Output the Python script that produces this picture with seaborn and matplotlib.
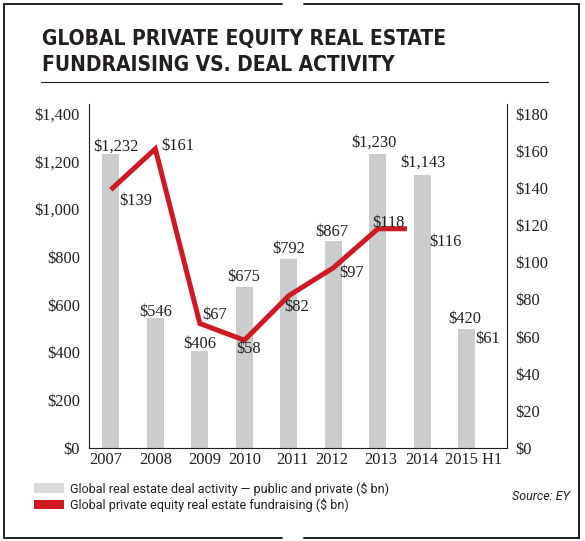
import matplotlib
matplotlib.use("Agg")
from matplotlib import pyplot as plt
from matplotlib import font_manager
from matplotlib.font_manager import FontProperties
from matplotlib.lines import Line2D
from matplotlib.patches import Patch
from matplotlib.transforms import ScaledTranslation
import seaborn as sns

# data
years = ["2007", "2008", "2009", "2010", "2011", "2012", "2013", "2014", "2015 H1"]
deal_activity = [1232, 546, 406, 675, 792, 867, 1230, 1143, 500]
deal_labels = ["$1,232", "$546", "$406", "$675", "$792", "$867", "$1,230", "$1,143", "$420"]
fundraising = [139, 161, 67, 58, 82, 97, 118, 116, 61]
# the red line as drawn: stops a bit after 2013
fund_line_x = [0, 1, 2, 3, 4, 5, 6, 6.65]
fund_line_y = [139, 161, 67, 58, 82, 97, 118, 118]
left_ticks = [0, 200, 400, 600, 800, 1000, 1200, 1400]
right_ticks = [0, 20, 40, 60, 80, 100, 120, 140, 160, 180]

W, H = 585, 541
BAR = "#cbcccd"
RED = "#cf1a24"
INK = "#231f20"
SERIF = ["Liberation Serif", "DejaVu Serif"]
SANS = ["Roboto", "DejaVu Sans"]

sns.set_style("white")
plt.rcParams["font.family"] = SERIF


def title_font(size):
    # a condensed bold face if one is installed, else Roboto bold
    for f in font_manager.fontManager.ttflist:
        fn = f.fname.lower()
        if ("condensed" in fn or "narrow" in fn) and "bold" in fn and "oblique" not in fn \
                and "italic" not in fn:
            return FontProperties(fname=f.fname, size=size)
    return FontProperties(family=SANS, weight="bold", size=size)


def fx(x):
    return x / W


def fy(y):
    return 1 - y / H


fig = plt.figure(figsize=(W / 100, H / 100), dpi=100)
ax = fig.add_axes([fx(89), fy(448), (507 - 89) / W, (448 - 104) / H])

sns.barplot(x=years, y=deal_activity, color=BAR, width=0.38, linewidth=0,
            saturation=1, ax=ax)
ax.set_xlim(-0.49, 8.9)
ax.set_ylim(0, 1440)
ax.set_yticks(left_ticks)
ax.set_yticklabels([f"${t:,}" for t in left_ticks])
ax.tick_params(axis="both", length=0, labelsize=11.8, colors=INK)
ax.tick_params(axis="y", pad=6.5)
ax.tick_params(axis="x", pad=3)
ax.set_xlabel("")
ax.set_ylabel("")
# year labels sit slightly off the bar centres in the original
year_shift = [-5.5, 0, 4.5, 0, 4, -1.5, 3, -1, 7]
for lab, dx in zip(ax.get_xticklabels(), year_shift):
    lab.set_transform(lab.get_transform() + ScaledTranslation(dx / 100, 0, fig.dpi_scale_trans))
for side in ["top", "right"]:
    ax.spines[side].set_visible(False)
for side in ["left", "bottom"]:
    ax.spines[side].set_color(INK)
    ax.spines[side].set_linewidth(0.8)

ax2 = ax.twinx()
sns.lineplot(x=fund_line_x, y=fund_line_y, color=RED, linewidth=3.6, sort=False,
             solid_joinstyle="miter", solid_capstyle="butt", ax=ax2)
ax2.set_xlim(-0.49, 8.9)
ax2.set_ylim(0, 1440 * 180 / 1400)
ax2.set_yticks(right_ticks)
ax2.set_yticklabels([f"${t}" for t in right_ticks])
ax2.tick_params(axis="y", length=0, labelsize=11.8, colors=INK, pad=6)
ax2.set_ylabel("")
for side in ["top", "left", "bottom"]:
    ax2.spines[side].set_visible(False)
ax2.spines["right"].set_color(INK)
ax2.spines["right"].set_linewidth(0.8)

# value labels, offsets in pixels from the bar top / line point
bar_offsets = [(5.5, 7), (0, 6), (0, 7), (-1, 10), (0, 9.5), (-2, 8.5),
               (-4, 11.5), (1, 12), (-2, 10)]
for i, (v, lab) in enumerate(zip(deal_activity, deal_labels)):
    dx, dy = bar_offsets[i]
    ax.annotate(lab, (i, v), xytext=(dx, dy), textcoords="offset pixels",
                ha="center", va="center", fontsize=11.8, color=INK)

fund_offsets = [(25, -11), (22.5, 3), (15, 8.5), (4.5, -9), (8, -11),
                (18.5, -5), (11, 6), (23.5, -9.6), (21, -4.5)]
for i, v in enumerate(fundraising):
    dx, dy = fund_offsets[i]
    ax2.annotate(f"${v}", (i, v), xytext=(dx, dy), textcoords="offset pixels",
                 ha="center", va="center", fontsize=11.8, color=INK)

# title and rule
tfont = title_font(15)
fig.text(fx(42), fy(45), "GLOBAL PRIVATE EQUITY REAL ESTATE", fontproperties=tfont,
         color=INK, va="baseline")
fig.text(fx(42), fy(71), "FUNDRAISING VS. DEAL ACTIVITY", fontproperties=tfont,
         color=INK, va="baseline")
fig.add_artist(Line2D([fx(41), fx(548)], [fy(82), fy(82)], color=INK, lw=0.8,
                      transform=fig.transFigure))

# legend
handles = [Patch(facecolor="#d9d9d9", edgecolor="none"),
           Patch(facecolor=RED, edgecolor="none")]
labels = ["Global real estate deal activity \u2014 public and private ($ bn)",
          "Global private equity real estate fundraising ($ bn)"]
fig.legend(handles, labels, loc="upper left", bbox_to_anchor=(fx(34), fy(481.5)),
           frameon=False, prop={"family": SANS, "size": 9},
           handlelength=2.4, handleheight=0.8, handletextpad=0.5,
           labelspacing=0.2, borderpad=0, borderaxespad=0, labelcolor=INK)

fig.text(fx(570), fy(497), "Source: EY", family=SANS, style="italic",
         fontsize=9, color=INK, ha="right", va="center")

# outer frame with the small gaps at the middle of top and bottom
frame = dict(color=INK, lw=1.4, transform=fig.transFigure)
for y in (4, 538):
    fig.add_artist(Line2D([fx(4), fx(282)], [fy(y), fy(y)], **frame))
    fig.add_artist(Line2D([fx(304), fx(579)], [fy(y), fy(y)], **frame))
for x in (4, 579):
    fig.add_artist(Line2D([fx(x), fx(x)], [fy(4), fy(538)], **frame))

fig.savefig("out.png", dpi=100)
